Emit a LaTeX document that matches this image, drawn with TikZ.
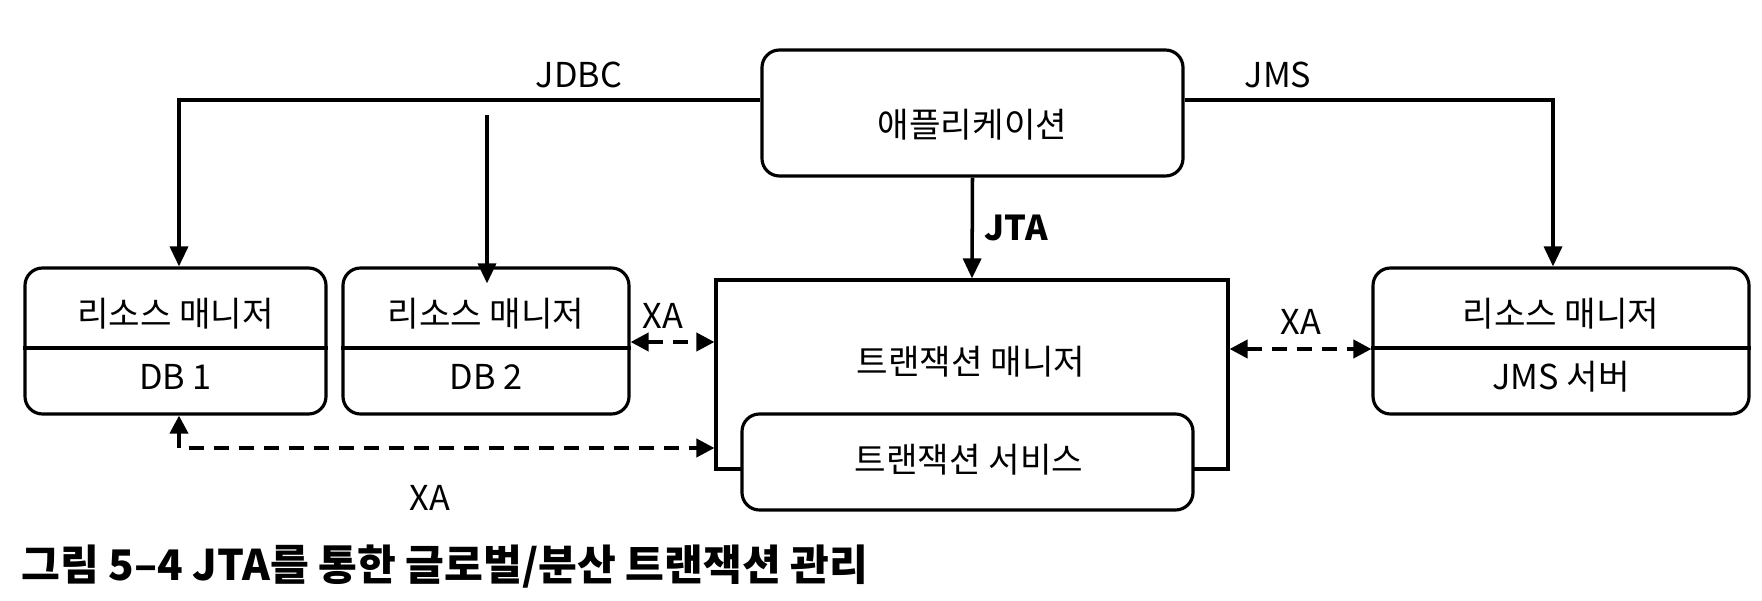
\documentclass[tikz,border=0pt]{standalone}
\usepackage{fontspec}
\setmainfont{Noto Sans CJK KR}
\usetikzlibrary{arrows.meta}
\newcommand{\drawManager}[4]{
  \node[mgr, minimum width=#3] (#1) at (#2,-6.82) {};
  \draw[line width=1.8pt] (#1.west |- 0,-6.96) -- (#1.east |- 0,-6.96);
  \node (#1Top) at (#2,-6.28) {리소스 매니저};
  \node (#1Bottom) at (#2,-7.54) {#4};
}
\tikzset{
  mgr/.style={draw, rounded corners=0.35cm, minimum height=2.92cm, line width=1.8pt, inner sep=0pt},
  arr/.style={-{Triangle[length=0.4cm, width=0.36cm]}, line width=2pt},
  xa/.style={{Triangle[length=0.36cm, width=0.36cm]}-{Triangle[length=0.36cm, width=0.36cm]},
    dash pattern=on 0.3cm off 0.2cm, line width=2.2pt},
}
\begin{document}
\begin{tikzpicture}[font=\fontsize{19.5pt}{23pt}\selectfont]
  \useasboundingbox (0,0) rectangle (35.24,-12.02);
  % Boxes
  \node[mgr, minimum width=8.42cm, minimum height=2.52cm] (App) at (19.45,-2.26) {};
  \node (AppText) at (19.45,-2.5) {애플리케이션};
  \drawManager{DBOne}{3.51}{6.02cm}{DB 1}
  \drawManager{DBTwo}{9.72}{5.72cm}{DB 2}
  \drawManager{JMS}{31.22}{7.52cm}{JMS 서버}
  \node[draw, line width=1.8pt, minimum width=10.24cm, minimum height=3.78cm] (TM) at (19.44,-7.49) {};
  \node (TMText) at (19.42,-7.24) {트랜잭션 매니저};
  \node[mgr, fill=white, minimum width=9.02cm, minimum height=1.92cm] (TS) at (19.35,-9.24) {};
  \node (TSText) at (19.38,-9.2) {트랜잭션 서비스};

  % Connectors
  \draw[arr] ([yshift=0.26cm]App.west) -| ([xshift=0.07cm]DBOne.north);
  \draw[arr] ([xshift=0.02cm, yshift=3.02cm]DBTwo.north) -- ([xshift=0.02cm, yshift=-0.34cm]DBTwo.north);
  \draw[arr] ([yshift=0.26cm]App.east) -| ([xshift=-0.16cm]JMS.north);
  \draw[arr] (App.south) -- (TM.north) node[midway, right, xshift=0.1cm, font=\fontsize{19.5pt}{23pt}\selectfont\bfseries] (JTA) {JTA};
  \draw[xa] ([yshift=-0.02cm]DBTwo.east) -- ([yshift=-0.02cm]DBTwo.east -| TM.west);
  \draw[xa] ([yshift=-0.16cm]JMS.west -| TM.east) -- ([yshift=-0.16cm]JMS.west);
  \draw[xa] ([xshift=0.07cm]DBOne.south) |- (TM.west |- 0,-8.96);

  % Labels
  \node (JDBC) at (11.58,-1.5) {JDBC};
  \node (JMSLabel) at (25.56,-1.5) {JMS};
  \node (XALeft) at (13.26,-6.32) {XA};
  \node (XARight) at (26.02,-6.44) {XA};
  \node (XABottom) at (8.6,-9.96) {XA};
  \node[anchor=west, font=\fontsize{24pt}{28pt}\selectfont\bfseries] (Caption) at (0.3,-11.34) {그림 5–4 JTA를 통한 글로벌/분산 트랜잭션 관리};
\end{tikzpicture}
\end{document}
